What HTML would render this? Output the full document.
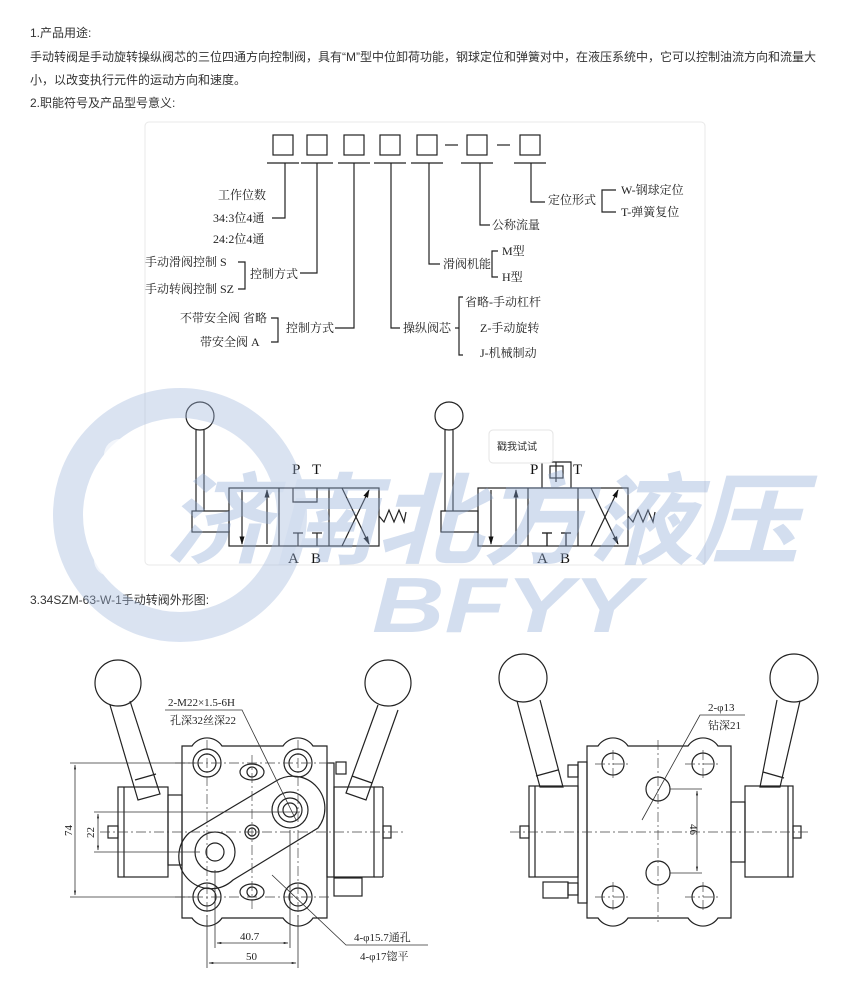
<!DOCTYPE html>
<html><head><meta charset="utf-8"><style>
html,body{margin:0;padding:0;background:#fff;width:859px;height:1000px;overflow:hidden}
svg{display:block}
.t{font-family:"Liberation Sans","Noto Sans CJK SC",sans-serif;font-size:12px;fill:#333}
.s{font-family:"Liberation Serif","Noto Serif CJK SC",serif;font-size:12px;fill:#222}
.v{font-family:"Liberation Serif","Noto Serif CJK SC",serif;font-size:15px;fill:#111}
.l{stroke:#222;stroke-width:1.2;fill:none}
.d{stroke:#333;stroke-width:0.8;fill:none}
.c{stroke:#444;stroke-width:0.7;fill:none;stroke-dasharray:10 3 2 3}
</style></head><body>
<svg width="859" height="1000" viewBox="0 0 859 1000" xmlns="http://www.w3.org/2000/svg">
<defs>
<marker id="ar" viewBox="0 0 10 10" refX="9" refY="5" markerWidth="7" markerHeight="9" orient="auto-start-reverse"><path d="M0,2 L10,5 L0,8z" fill="#111"/></marker>
<marker id="da" viewBox="0 0 10 10" refX="9" refY="5" markerWidth="6" markerHeight="6" orient="auto-start-reverse"><path d="M0,3 L10,5 L0,7z" fill="#111"/></marker>
</defs>
<text class="t" x="30" y="37">1.产品用途:</text>
<text class="t" x="30" y="61">手动转阀是手动旋转操纵阀芯的三位四通方向控制阀，具有“M”型中位卸荷功能，钢球定位和弹簧对中，在液压系统中，它可以控制油流方向和流量大</text>
<text class="t" x="30" y="84">小，以改变执行元件的运动方向和速度。</text>
<text class="t" x="30" y="107">2.职能符号及产品型号意义:</text>

<rect x="145" y="122" width="560" height="443" rx="4" fill="#fff" stroke="#e8e8e8"/>
<g class="l">
<rect x="273" y="135" width="20" height="20"/><rect x="307" y="135" width="20" height="20"/><rect x="344" y="135" width="20" height="20"/><rect x="380" y="135" width="20" height="20"/><rect x="417" y="135" width="20" height="20"/><rect x="467" y="135" width="20" height="20"/><rect x="520" y="135" width="20" height="20"/>
<line x1="445" y1="145" x2="458" y2="145"/><line x1="497" y1="145" x2="510" y2="145"/>
<line x1="267" y1="163" x2="299" y2="163"/><line x1="301" y1="163" x2="333" y2="163"/><line x1="338" y1="163" x2="370" y2="163"/><line x1="374" y1="163" x2="406" y2="163"/><line x1="411" y1="163" x2="443" y2="163"/><line x1="461" y1="163" x2="493" y2="163"/><line x1="514" y1="163" x2="546" y2="163"/>
<polyline points="285,163 285,218 272,218"/>
<polyline points="317,163 317,273 300,273"/>
<polyline points="354,163 354,328 335,328"/>
<polyline points="391,163 391,328 400,328"/>
<polyline points="429,163 429,264 440,264"/>
<polyline points="480,163 480,225 490,225"/>
<polyline points="531,163 531,202 545,202"/>
<polyline points="238,262 245,262 245,289 238,289"/>
<polyline points="271,318 278,318 278,342 271,342"/>
<polyline points="463,297 459,297 459,355 463,355"/><line x1="459" y1="328" x2="455" y2="328"/>
<polyline points="498,251 492,251 492,277 498,277"/>
<polyline points="616,190 602,190 602,212 616,212"/>
</g>
<g class="s">
<text x="218" y="199">工作位数</text>
<text x="213" y="222">34:3位4通</text>
<text x="213" y="243">24:2位4通</text>
<text x="145" y="266">手动滑阀控制 S</text>
<text x="145" y="293">手动转阀控制 SZ</text>
<text x="250" y="278">控制方式</text>
<text x="180" y="322">不带安全阀 省略</text>
<text x="200" y="346">带安全阀 A</text>
<text x="286" y="332">控制方式</text>
<text x="403" y="332">操纵阀芯</text>
<text x="465" y="306">省略-手动杠杆</text>
<text x="480" y="332">Z-手动旋转</text>
<text x="480" y="357">J-机械制动</text>
<text x="443" y="268">滑阀机能</text>
<text x="502" y="255">M型</text>
<text x="502" y="281">H型</text>
<text x="492" y="229">公称流量</text>
<text x="548" y="204">定位形式</text>
<text x="621" y="194">W-钢球定位</text>
<text x="621" y="216">T-弹簧复位</text>
</g>

<g id="v1" class="l">
<circle cx="200" cy="416" r="14"/>
<line x1="196" y1="430" x2="196" y2="511"/><line x1="204" y1="430" x2="204" y2="511"/>
<rect x="192" y="511" width="37" height="21"/>
<rect x="229" y="488" width="150" height="58"/>
<line x1="279" y1="488" x2="279" y2="546"/><line x1="329" y1="488" x2="329" y2="546"/>
<line x1="242" y1="490" x2="242" y2="544" marker-end="url(#ar)"/>
<line x1="267" y1="544" x2="267" y2="490" marker-end="url(#ar)"/>
<line x1="298" y1="533" x2="298" y2="546"/><line x1="293" y1="533" x2="303" y2="533"/>
<line x1="317" y1="533" x2="317" y2="546"/><line x1="312" y1="533" x2="322" y2="533"/>
<line x1="342" y1="546" x2="369" y2="490" marker-end="url(#ar)"/>
<line x1="342" y1="488" x2="369" y2="544" marker-end="url(#ar)"/>
<polyline points="379,516 384,522 389,510 394,522 399,510 404,522 406,512"/>
</g>
<g class="l">
<polyline points="293,488 293,502 317,502 317,488"/>
</g>
<g class="v"><text x="292" y="474">P</text><text x="312" y="474">T</text><text x="288" y="563">A</text><text x="311" y="563">B</text></g>
<use href="#v1" transform="translate(249,0)"/>
<g class="l">
<polyline points="542,488 542,462 571,462 571,488"/>
<rect x="550" y="466" width="13" height="12"/>
<line x1="556" y1="462" x2="556" y2="482"/>
<line x1="547" y1="533" x2="547" y2="546"/><line x1="542" y1="533" x2="552" y2="533"/>
<line x1="566" y1="533" x2="566" y2="546"/><line x1="561" y1="533" x2="571" y2="533"/>
</g>
<g class="v"><text x="530" y="474">P</text><text x="573" y="474">T</text><text x="537" y="563">A</text><text x="560" y="563">B</text></g>
<rect x="489" y="430" width="64" height="33" rx="4" fill="#fff" stroke="#e4e4e4"/>
<text x="497" y="450" style="font-family:'Noto Sans CJK SC',sans-serif;font-size:10px;fill:#333">戳我试试</text>

<text class="t" x="30" y="604">3.34SZM-63-W-1手动转阀外形图:</text>

<g class="l">
<path d="M182,746 L192,746 A18,18 0 0 1 222,746 L283,746 A18,18 0 0 1 313,746 L327,746 L327,918 L313,918 A18,18 0 0 1 283,918 L222,918 A18,18 0 0 1 192,918 L182,918 Z"/>
<circle cx="207" cy="763" r="14"/><circle cx="207" cy="763" r="9"/>
<circle cx="298" cy="763" r="14"/><circle cx="298" cy="763" r="9"/>
<circle cx="207" cy="897" r="14"/><circle cx="207" cy="897" r="9"/>
<circle cx="298" cy="897" r="14"/><circle cx="298" cy="897" r="9"/>
<ellipse cx="252" cy="772" rx="12" ry="8"/><circle cx="252" cy="772" r="5"/>
<ellipse cx="252" cy="892" rx="12" ry="8"/><circle cx="252" cy="892" r="5"/>
<circle cx="252" cy="832" r="7"/><circle cx="252" cy="832" r="4"/>
<path d="M276,781 A32,32 0 0 1 318,828 L233,880 A32,32 0 0 1 189,833 Z"/>
<circle cx="290" cy="810" r="18"/><circle cx="290" cy="810" r="12"/><circle cx="290" cy="810" r="7"/>
<circle cx="215" cy="852" r="20"/><circle cx="215" cy="852" r="9"/>
<rect x="118" y="787" width="50" height="90"/><line x1="124" y1="787" x2="124" y2="877"/>
<rect x="168" y="795" width="14" height="70"/>
<rect x="327" y="763" width="7" height="114"/>
<rect x="334" y="787" width="40" height="90"/><line x1="374" y1="787" x2="383" y2="787"/><line x1="383" y1="787" x2="383" y2="877"/><line x1="374" y1="877" x2="383" y2="877"/>
<rect x="334" y="878" width="28" height="18"/>
<rect x="108" y="826" width="10" height="12"/><rect x="383" y="826" width="8" height="12"/>
<rect x="336" y="762" width="10" height="12"/>
<circle cx="118" cy="683" r="23" fill="#fff"/>
<path d="M110,705 L138,800 L160,794 L130,701"/>
<line x1="135" y1="780" x2="156" y2="774"/>
<circle cx="388" cy="683" r="23" fill="#fff"/>
<path d="M378,705 L346,793 L366,800 L398,710"/>
<line x1="352" y1="776" x2="372" y2="783"/>
</g>
<g class="c">
<line x1="100" y1="832" x2="405" y2="832"/>
<line x1="175" y1="763" x2="330" y2="763"/><line x1="175" y1="897" x2="330" y2="897"/>
<line x1="207" y1="740" x2="207" y2="925"/><line x1="298" y1="740" x2="298" y2="925"/>
<line x1="252" y1="755" x2="252" y2="910"/>
</g>
<g class="d">
<line x1="70" y1="763" x2="195" y2="763"/><line x1="70" y1="897" x2="195" y2="897"/>
<line x1="75" y1="765" x2="75" y2="895" marker-start="url(#da)" marker-end="url(#da)"/>
<line x1="94" y1="812" x2="300" y2="812"/><line x1="94" y1="852" x2="200" y2="852"/>
<line x1="98" y1="814" x2="98" y2="850" marker-start="url(#da)" marker-end="url(#da)"/>
<line x1="215" y1="870" x2="215" y2="948"/><line x1="290" y1="830" x2="290" y2="948"/>
<line x1="207" y1="915" x2="207" y2="968"/><line x1="298" y1="915" x2="298" y2="968"/>
<line x1="217" y1="943" x2="288" y2="943" marker-start="url(#da)" marker-end="url(#da)"/>
<line x1="209" y1="963" x2="296" y2="963" marker-start="url(#da)" marker-end="url(#da)"/>
<polyline points="165,710 242,710 296,820"/>
<polyline points="428,945 346,945 272,875"/>
</g>
<g class="s" style="font-size:11px">
<text x="168" y="706">2-M22×1.5-6H</text>
<text x="170" y="724">孔深32丝深22</text>
<text x="354" y="941">4-φ15.7通孔</text>
<text x="360" y="960">4-φ17锪平</text>
<text x="240" y="940">40.7</text>
<text x="246" y="960">50</text>
<text transform="translate(72,836) rotate(-90)">74</text>
<text transform="translate(94,838) rotate(-90)">22</text>
</g>

<g class="l">
<path d="M587,746 L598,746 A18,18 0 0 1 628,746 L688,746 A18,18 0 0 1 718,746 L731,746 L731,918 L718,918 A18,18 0 0 1 688,918 L628,918 A18,18 0 0 1 598,918 L587,918 Z"/>
<circle cx="613" cy="764" r="11"/><circle cx="703" cy="764" r="11"/>
<circle cx="613" cy="897" r="11"/><circle cx="703" cy="897" r="11"/>
<circle cx="658" cy="789" r="12"/><circle cx="658" cy="873" r="12"/>
<rect x="529" y="786" width="49" height="91"/><line x1="535" y1="786" x2="535" y2="877"/>
<rect x="578" y="762" width="9" height="141"/>
<rect x="731" y="802" width="14" height="60"/>
<rect x="745" y="786" width="48" height="91"/><line x1="788" y1="786" x2="788" y2="877"/>
<rect x="520" y="826" width="9" height="12"/><rect x="793" y="826" width="8" height="12"/>
<rect x="568" y="765" width="10" height="12"/><rect x="568" y="883" width="10" height="12"/>
<rect x="543" y="882" width="25" height="16"/>
<circle cx="523" cy="678" r="24" fill="#fff"/>
<path d="M517,701 L540,787 L563,787 L540,700"/>
<line x1="536" y1="776" x2="558" y2="770"/>
<circle cx="794" cy="678" r="24" fill="#fff"/>
<path d="M800,701 L780,787 L760,787 L777,700"/>
<line x1="763" y1="772" x2="784" y2="778"/>
</g>
<g class="c">
<line x1="510" y1="832" x2="808" y2="832"/>
<line x1="658" y1="740" x2="658" y2="922"/>
<line x1="595" y1="764" x2="630" y2="764"/><line x1="685" y1="764" x2="720" y2="764"/>
<line x1="595" y1="897" x2="630" y2="897"/><line x1="685" y1="897" x2="720" y2="897"/>
<line x1="613" y1="750" x2="613" y2="780"/><line x1="703" y1="750" x2="703" y2="780"/>
<line x1="613" y1="882" x2="613" y2="912"/><line x1="703" y1="882" x2="703" y2="912"/>
</g>
<g class="d">
<line x1="670" y1="789" x2="702" y2="789"/><line x1="670" y1="873" x2="702" y2="873"/>
<line x1="697" y1="791" x2="697" y2="871" marker-start="url(#da)" marker-end="url(#da)"/>
<polyline points="745,715 700,715 642,820"/>
</g>
<g class="s" style="font-size:11px">
<text x="708" y="711">2-φ13</text>
<text x="708" y="729">钻深21</text>
<text transform="translate(690,824) rotate(90)">46</text>
</g>

<g opacity="0.38">
<circle cx="180" cy="515" r="112" fill="none" stroke="#9fb6dc" stroke-width="30"/>
<circle cx="120" cy="455" r="16" fill="#fff" opacity="0.7"/>
<circle cx="110" cy="560" r="16" fill="#fff" opacity="0.7"/>
<text x="165" y="556" textLength="635" lengthAdjust="spacingAndGlyphs" style="font-family:'Noto Sans CJK SC',sans-serif;font-weight:bold;font-style:italic;font-size:100px;fill:#8ea9d6">济南北方液压</text>
<text x="372" y="632" textLength="268" lengthAdjust="spacingAndGlyphs" style="font-family:'Liberation Sans',sans-serif;font-weight:bold;font-style:italic;font-size:78px;fill:#8ea9d6">BFYY</text>
</g>
</svg>
</body></html>
